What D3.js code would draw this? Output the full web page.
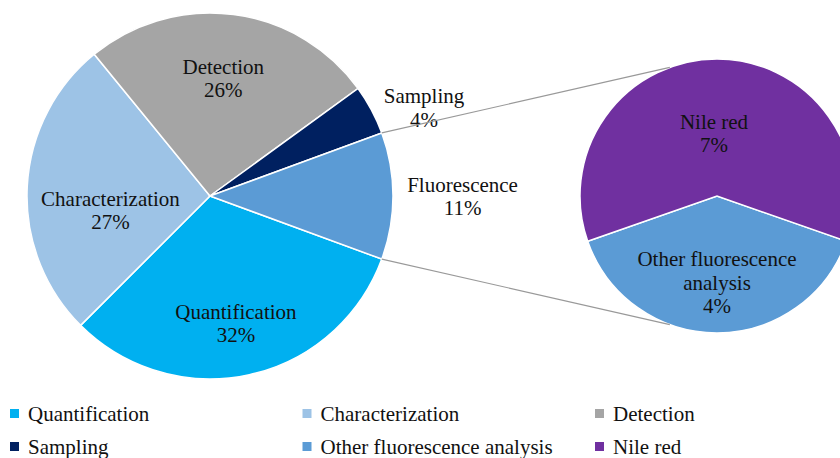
<!DOCTYPE html>
<html>
<head>
<meta charset="utf-8">
<script src="https://cdn.jsdelivr.net/npm/d3@7/dist/d3.min.js"></script>
<style>
body { margin: 0; background: #fff; overflow: hidden; }
svg text { font-family: "Liberation Serif", "Times New Roman", serif; font-size: 21px; fill: #111; }
</style>
</head>
<body>
<script>
// values (labels show rounded percentages)
var mainCategories = ["Quantification", "Characterization", "Detection", "Sampling", "Fluorescence"];
var mainValues = [31.9, 26.6, 25.9, 4.4, 11.2];
var subCategories = ["Other fluorescence analysis", "Nile red"];
var subValues = [4.4, 6.8];
var legendLabels = ["Quantification", "Characterization", "Detection", "Sampling", "Other fluorescence analysis", "Nile red"];

var color = d3.scaleOrdinal()
    .domain(["Quantification", "Characterization", "Detection", "Sampling", "Fluorescence", "Other fluorescence analysis", "Nile red"])
    .range(["#00b0f0", "#9dc3e6", "#a5a5a5", "#002060", "#5b9bd5", "#5b9bd5", "#7030a0"]);

// label placement: [radius factor, nudge x, nudge y]
var labelLayout = {
    "Quantification": [0.71, -2, 0],
    "Characterization": [0.55, 1, 19],
    "Detection": [0.65, -2, 0],
    "Sampling": [1.27, 9, 21],
    "Fluorescence": [1.38, 0, 0],
    "Other fluorescence analysis": [0.63, 0, 0],
    "Nile red": [0.46, -3, 0]
};
var labelLines = { "Other fluorescence analysis": ["Other fluorescence", "analysis"] };

var width = 840, height = 458;
var mainC = [210, 196], mainR = 183;
var subC = [717, 196], subR = 137;

var svg = d3.select("body").append("svg").attr("width", width).attr("height", height);

var mainTotal = d3.sum(mainValues);
var subTotal = d3.sum(subValues);
var fFrac = mainValues[4] / mainTotal;
var oFrac = subValues[0] / subTotal;

var mainData = mainCategories.map(function (c, i) { return { name: c, value: mainValues[i], pct: mainValues[i] / mainTotal * 100 }; });
var subData = subCategories.map(function (c, i) { return { name: c, value: subValues[i], pct: subValues[i] }; });

var mainStart = Math.PI / 2 + fFrac * Math.PI;
var mainArcs = d3.pie().sort(null).value(function (d) { return d.value; })
    .startAngle(mainStart).endAngle(mainStart + 2 * Math.PI)(mainData);
var subStart = Math.PI - oFrac * Math.PI;
var subArcs = d3.pie().sort(null).value(function (d) { return d.value; })
    .startAngle(subStart).endAngle(subStart + 2 * Math.PI)(subData);

function drawPie(arcs, c, r) {
    var g = svg.append("g").attr("transform", "translate(" + c[0] + "," + c[1] + ")");
    g.selectAll("path").data(arcs).enter().append("path")
        .attr("d", d3.arc().innerRadius(0).outerRadius(r))
        .attr("fill", function (d) { return color(d.data.name); })
        .attr("stroke", "#fff").attr("stroke-width", 1.5);
    return g;
}

var mainG = drawPie(mainArcs, mainC, mainR);
var subG = drawPie(subArcs, subC, subR);

// connector lines from the fluorescence slice edges to the second pie
function polar(c, r, a) { return [c[0] + r * Math.sin(a), c[1] - r * Math.cos(a)]; }
var connectors = [
    [polar(mainC, mainR, Math.PI / 2 - fFrac * Math.PI), polar(subC, subR, -fFrac * Math.PI)],
    [polar(mainC, mainR, Math.PI / 2 + fFrac * Math.PI), polar(subC, subR, Math.PI + fFrac * Math.PI)]
];
svg.selectAll("line.conn").data(connectors).enter().append("line")
    .attr("class", "conn")
    .attr("x1", function (d) { return d[0][0]; }).attr("y1", function (d) { return d[0][1]; })
    .attr("x2", function (d) { return d[1][0]; }).attr("y2", function (d) { return d[1][1]; })
    .attr("stroke", "#999").attr("stroke-width", 1.2);

function drawLabels(g, arcs, r) {
    var lh = 23.5;
    g.selectAll("text").data(arcs).enter().append("text")
        .attr("text-anchor", "middle")
        .each(function (d) {
            var lay = labelLayout[d.data.name];
            var p = d3.arc().innerRadius(r * lay[0]).outerRadius(r * lay[0]).centroid(d);
            var lines = (labelLines[d.data.name] || [d.data.name]).concat([Math.round(d.data.pct) + "%"]);
            var x = p[0] + lay[1];
            var y0 = p[1] + lay[2] - (lines.length - 1) * lh / 2 + 7.4;
            var t = d3.select(this);
            lines.forEach(function (s, i) {
                t.append("tspan").attr("x", x).attr("y", y0 + i * lh).text(s);
            });
        });
}
drawLabels(mainG, mainArcs, mainR);
drawLabels(subG, subArcs, subR);

// legend, three columns by two rows
var colX = d3.scalePoint().domain([0, 1, 2]).range([10, 595]);
var rowY = d3.scalePoint().domain([0, 1]).range([413.5, 446.5]);
var leg = svg.selectAll("g.legend").data(legendLabels).enter().append("g")
    .attr("class", "legend")
    .attr("transform", function (d, i) { return "translate(" + colX(i % 3) + "," + rowY(Math.floor(i / 3)) + ")"; });
leg.append("rect").attr("x", 0).attr("y", -4.5).attr("width", 9).attr("height", 9)
    .attr("fill", function (d) { return color(d); });
leg.append("text").attr("x", 18).attr("y", 7.5).text(function (d) { return d; });
</script>
</body>
</html>
